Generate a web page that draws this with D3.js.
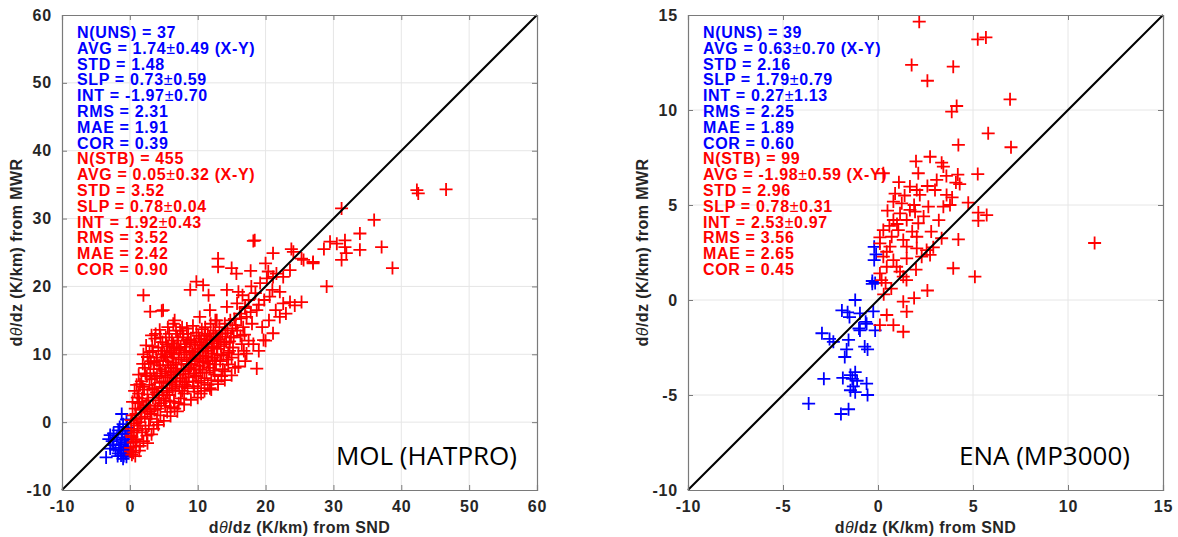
<!DOCTYPE html>
<html>
<head>
<meta charset="utf-8">
<script src="https://cdn.jsdelivr.net/npm/d3@7"></script>
<style>
body { margin: 0; background: #fff; }
svg { display: block; }
</style>
</head>
<body>
<div id="chart"></div>
<script>
// ---- data ----
var molTicks = [-10, 0, 10, 20, 30, 40, 50, 60];
var enaTicks = [-10, -5, 0, 5, 10, 15];

// MOL unstable (blue)
var molUns = [[-3.5,-5.2],[-2.4,-1.65],[-1.2,1.2],[-2.9,-3.9],[-0.5,-5.1],[-2.9,-1.9],[-1.5,-0.7],
  [-2.4,-3.4],[-1.7,-4.6],[-1.0,-5.4],[-0.5,-3.6],[-1.2,-2.6],[-0.7,-1.65],[-1.9,-2.3],[-1.4,-3.3],
  [-0.9,-4.2],[-1.3,-4.9],[-0.6,-4.6],[-0.3,-3.0],[-0.8,-3.0],[-1.7,-1.2],[-2.1,-4.1],[-0.4,-0.8],
  [-1.0,-0.3],[-0.2,-2.2],[-0.6,-2.5],[-1.1,-1.8],[-1.6,-3.8],[-0.9,-5.0],[-0.3,-4.1],[-2.6,-2.8],
  [-1.3,-4.2],[-0.7,-3.8],[-0.5,0.4],[-0.2,-1.3],[-1.8,-5.0],[-3.1,-2.5]];

// MOL stable (red)
var molStb = [
  [0.5,-4.5],[0.1,-3.8],[0.3,-4.8],[0.8,-5.0],[0.5,-3],[1,-2.5],[0.2,-2],[0.2,-1],[0.6,-0.2],[1,0.5],
  [0.4,1],[0.8,2],[1.2,2.8],[0.2,0.3],[0.3,-2.2],[1.1,-1.2],[0.9,-3.6],[0.1,-4.3],
  [1.5,-3.5],[2,-2.8],[1.8,-1.5],[2.5,-2],[1.5,0],[2.2,0.8],[2.8,-0.5],[1.6,1.8],[2.4,2.5],[1.8,3.5],
  [2.7,3.2],[1.3,4.2],[2.1,4.8],[2.9,5.5],[1.7,6],[2.5,6.8],[2.2,8],[2.8,8.6],[3,7.2],[1.9,5.2],
  [2.6,1.5],[3,0.5],[3,2],[1.4,3],
  [3.5,-1],[4,0],[4.5,1],[3.2,1.2],[3.8,2.4],[4.6,2.8],[3.4,3.6],[4.2,4],[4.8,4.6],[3.6,5],[4.4,5.8],
  [3.2,6.3],[4,6.8],[4.7,7.2],[3.5,7.8],[4.3,8.4],[3.1,9],[3.9,9.5],[4.6,10],[3.4,10.5],[4.2,11],
  [4.8,11.8],[3.7,12.3],[5,3.5],[5,6],[4.9,9],[3.3,4.8],[4.1,2],[3.6,8.8],[4.5,12.5],
  [5.5,1.5],[6,2.2],[6.5,3],[5.3,3.2],[5.8,4],[6.7,4.6],[5.4,5],[6.2,5.5],[6.9,6],[5.6,6.6],[6.4,7],
  [5.2,7.5],[6,8],[6.8,8.5],[5.5,9],[6.3,9.5],[5.1,10],[5.9,10.5],[6.6,11],[5.4,11.5],[6.2,12],
  [7,12.5],[5.8,13],[6.8,13.5],[6.5,10],[7,7.5],[5.3,12.5],[6.6,2],
  [7.5,3.5],[8,4.2],[8.5,5],[7.3,5.2],[7.8,6],[8.7,6.6],[7.4,7],[8.2,7.5],[8.9,8],[7.6,8.5],[8.4,9],
  [7.2,9.5],[8,10],[8.8,10.5],[7.5,11],[8.3,11.5],[7.1,12],[7.9,12.5],[8.6,13],[7.4,13.5],[9,9.5],
  [8.1,5.5],[7.7,14],[9,12],
  [9.5,4.5],[10,5],[10.5,5.8],[9.3,6],[9.8,6.8],[10.7,7.3],[9.4,7.8],[10.2,8.3],[10.9,8.8],[9.6,9.3],
  [10.4,9.8],[9.2,10.3],[10,10.8],[10.8,11.3],[9.5,11.8],[10.3,12.3],[11,12.8],[9.8,13.2],[10.6,13.7],
  [9.3,14.2],[10.5,4.2],[11,6.5],
  [11.5,5.5],[12,6.2],[12.5,7],[11.3,7.3],[11.8,8],[12.7,8.5],[11.4,9],[12.2,9.5],[12.9,10],[11.6,10.5],
  [12.4,11],[11.2,11.5],[12,12],[12.8,12.5],[11.5,13],[12.3,13.5],[11.1,14],[11.9,14.5],[12.6,15],[13,6],
  [13.5,6.8],[14,7.5],[14.5,8.5],[13.3,9],[13.8,10],[14.7,10.5],[13.4,11.2],[14.2,11.8],[14.9,12.5],
  [13.6,13],[14.4,13.5],[13.2,14],[14,14.5],[14.8,15],[15,9.5],[13.1,12.2],
  [15.5,8],[16,10],[16.5,11.5],[15.3,12.5],[15.8,13.5],[16.7,14],[15.4,15.2],[16.2,16],[17,17],
  [17.5,12],[16.8,10.5],[18,14.5],[17.5,18],[15.8,17.5],[17.2,15.5],
  [2.0,18.7],[3.0,16.3],[4.7,16.4],[18.7,7.9],[17.2,10.1],[19.7,12.1],[21.1,13.1],[22.1,15.5],
  [6.6,15],[8.4,13.8],[10.3,15.5],[12.8,15],[4.9,16.5],[11.8,16.5],[14.3,17],[17,16.8],[18.7,16.5],
  [9.8,20.7],[10.8,20.2],[8.9,19.5],[11.6,18.7],[14.3,19.5],[16,19.2],[17.9,20],[19.2,20.5],[20.2,21.2],
  [21.6,21.9],[22.6,21.4],[23.6,22.4],[20.6,18.5],[22.1,19.2],[23.6,17.7],[25.3,17.7],[22.6,17.5],
  [18.2,26.7],[13.0,24.1],[13.0,22.9],[15.0,22.7],[15.7,21.9],[21.1,24.9],[24.1,25.1],[25.6,23.9],
  [27,23.6],[18.4,26.8],[23.8,25.5],[25.3,24.1],[20.4,22.2],[21.1,21.4],
  [42.3,34.2],[42.5,33.7],[46.6,34.3],[31.2,31.5],[36.0,29.8],[33.9,27.8],[37.1,25.8],[38.7,22.7],
  [29.5,26.6],[31.7,26.8],[31.7,25.8],[31.9,24.9],[31.2,23.9],[33.9,25.4],[28.6,25.5],[30.5,26.3],
  [29,20],[27,23.4],
  [0.6,-1.5],[1.2,-0.5],[0.9,1.2],[1.7,0.6],[2.3,-1],[2.0,2.2],[1.1,3.6],[2.6,4.1],[1.5,5.6],[2.3,7.2],
  [1.9,8.6],[2.6,9.6],[3.3,11.2],[2.9,10.3],[3.8,13],[4.4,13.6],[5.6,14],[6.4,14.5],[3.6,1.8],[4.3,3.2],
  [3.9,4.4],[4.7,5.2],[3.7,6.5],[4.5,7.8],[4.0,9.0],[4.8,10.5],[5.2,2.4],[5.9,3.1],[5.5,4.4],[6.3,4.9],
  [5.9,5.8],[6.7,6.5],[5.3,6.9],[6.1,7.3],[6.7,7.9],[5.7,8.4],[6.4,8.8],[5.3,9.6],[6.1,10.2],[6.9,10.8],
  [5.6,11.2],[6.4,11.6],[7.2,2.8],[7.7,4.6],[8.3,5.9],[7.5,6.4],[8.6,7.1],[7.9,7.7],[8.7,8.6],[7.6,9.2],
  [8.3,10.3],[7.3,10.6],[8.1,11.1],[8.9,11.7],[7.8,13],[8.5,12.2],[9.4,5.3],[10.1,6.1],[9.6,7.2],
  [10.4,7.7],[9.1,8.5],[9.9,9.0],[10.7,9.4],[9.4,10],[10.2,10.4],[10.9,10.9],[9.7,11.4],[10.5,11.8],
  [11.3,12.2],[10.1,12.7],[11.8,5],[12.3,7.6],[11.6,8.6],[12.5,9.1],[11.2,9.7],[12.0,10.1],[12.8,10.8],
  [11.4,11.1],[12.2,11.6],[13,11.9],[11.8,12.6],[12.6,13.1],[13.7,7.8],[14.3,9.2],[13.5,9.8],[14.5,10.2],
  [13.9,11.5],[14.7,11.9],[13.3,12.6],[14.1,13.1],[15.2,11],[15.6,14.3],[16.3,12.7],[16.9,12.9],
  [15.1,13.8],[16.4,15.3],[17.8,16.2],[1.3,7],[0.7,4.6],[0.4,3],[1.0,5.5],[2.4,11.3],[3.2,12.8],[2.0,10],
  [0.8,-2.8],[1.4,-4.2],[2.6,-3.1],[3.2,-1.8],[4.2,-0.4],[5,0.2],[6,0.9],[7,1.6],[8,2.6],[9,3.3],
  [10,3.6],[11,4.6],[12,4.8],[13,5.6],[14,6.2],[15,6.9],[16,8.2],[17,9],[19,10.5],[20,12],[18.2,11.5],
  [19.5,14],[20.5,15],[21.5,16.5],[23,16],[24.3,17.2],[16.6,18.7],[18.5,19],[19.8,18],[19,17.3],
  [21,19.5],[17.8,22.3],[20,23.4]];

// ENA unstable (blue)
var enaUns = [[-0.2,2.8],[-0.1,2.4],[-0.2,2.1],[-0.3,1.0],[-0.15,0.9],[-1.2,0.0],[-1.9,-0.55],
  [-1.6,-0.65],[-1.5,-0.9],[-0.95,-0.7],[-0.25,-0.6],[-0.65,-1.15],[-0.6,-1.25],[-1.0,-1.5],
  [-0.15,-1.6],[-2.95,-1.75],[-2.55,-2.05],[-2.35,-2.2],[-1.55,-2.1],[-1.65,-2.6],[-0.7,-2.45],
  [-0.55,-2.6],[-1.75,-3.0],[-2.85,-4.15],[-1.85,-4.1],[-1.45,-3.95],[-1.2,-3.8],[-1.35,-4.15],
  [-1.1,-4.25],[-1.3,-4.55],[-0.6,-4.4],[-1.45,-4.75],[-1.2,-4.85],[-0.55,-5.0],[-3.65,-5.45],
  [-1.55,-5.75],[-1.95,-6.0],[-0.95,-1.6],[-0.3,0.85]];

// ENA stable (red)
var enaStb = [[2.17,14.65],[5.25,13.72],[5.68,13.82],[1.77,12.37],[3.96,12.28],[2.6,11.54],[6.95,10.56],
  [4.14,10.21],[3.88,9.91],[5.8,8.77],[4.23,8.16],[7.0,8.04],[2.74,7.54],[3.35,7.23],[3.44,7.02],
  [2.12,6.67],[3.6,6.53],[5.25,6.63],[3.09,6.32],[4.1,6.18],[4.3,6.1],[1.68,5.97],[2.04,5.79],
  [2.2,5.53],[3.0,5.79],[3.61,5.53],[0.81,5.18],[1.25,5.09],[2.65,4.91],[3.44,4.91],[3.79,5.0],
  [4.75,5.12],[1.68,4.74],[1.95,4.65],[1.16,4.56],[0.81,4.21],[1.51,4.21],[2.12,4.04],[5.28,4.6],
  [5.72,4.47],[5.28,4.18],[0.28,3.68],[1.07,3.68],[0.72,3.33],[1.33,3.16],[2.04,3.33],[3.35,3.25],
  [4.23,3.19],[0.1,2.98],[0.63,2.81],[1.51,2.81],[2.04,2.72],[2.56,2.63],[2.91,2.77],[0.28,2.28],
  [0.81,2.1],[1.51,2.19],[2.3,2.28],[2.74,2.37],[0.46,1.75],[1.16,1.49],[3.96,1.67],[0.1,1.4],
  [5.1,1.23],[0.19,1.05],[1.33,1.23],[0.28,6.67],[11.4,3.0],[2.6,0.5],[1.33,-0.09],[1.51,-0.61],
  [0.46,-0.79],[0.81,-1.32],[0.1,-1.32],[1.33,-1.67],[0.9,5.6],[1.0,4.0],[0.46,2.54],[0.98,1.75],
  [0.4,0.9],[1.5,1.05],[0.1,3.3],[0.6,3.9],[1.9,5.0],[2.4,4.4],[3.2,4.2],[2.8,3.6],[1.8,3.6],
  [0.5,4.7],[1.4,5.5],[2.6,6.0],[3.9,5.4],[0.3,0.3],[0.7,0.6],[2.0,1.6],[1.9,0.1],[4.2,6.6],
  [2.0,7.3],[1.1,6.2]];

var molUnsStats = ["N(UNS) = 37", "AVG = 1.74±0.49 (X-Y)", "STD = 1.48", "SLP = 0.73±0.59",
  "INT = -1.97±0.70", "RMS = 2.31", "MAE = 1.91", "COR = 0.39"];
var molStbStats = ["N(STB) = 455", "AVG = 0.05±0.32 (X-Y)", "STD = 3.52", "SLP = 0.78±0.04",
  "INT = 1.92±0.43", "RMS = 3.52", "MAE = 2.42", "COR = 0.90"];
var enaUnsStats = ["N(UNS) = 39", "AVG = 0.63±0.70 (X-Y)", "STD = 2.16", "SLP = 1.79±0.79",
  "INT = 0.27±1.13", "RMS = 2.25", "MAE = 1.89", "COR = 0.60"];
var enaStbStats = ["N(STB) = 99", "AVG = -1.98±0.59 (X-Y)", "STD = 2.96", "SLP = 0.78±0.31",
  "INT = 2.53±0.97", "RMS = 3.56", "MAE = 2.65", "COR = 0.45"];

var panels = [
  {left: 62, domain: [-10, 60], ticks: molTicks, uns: molUns, stb: molStb,
   unsStats: molUnsStats, stbStats: molStbStats, name: "MOL (HATPRO)", nameRight: 517},
  {left: 688, domain: [-10, 15], ticks: enaTicks, uns: enaUns, stb: enaStb,
   unsStats: enaUnsStats, stbStats: enaStbStats, name: "ENA (MP3000)", nameRight: 1130}
];

// ---- drawing ----
var W = 1178, H = 537, plotTop = 15, size = 475;
var boldFont = "'Liberation Sans', Arial, Helvetica, sans-serif";
var axisColor = "#262626";

var svg = d3.select("#chart").append("svg")
    .attr("width", W).attr("height", H)
    .attr("viewBox", [0, 0, W, H]);

var plusPath = "M-6.5,0H6.5M0,-6.5V6.5";

const drawPanel = (p) => {
  var x = d3.scaleLinear().domain(p.domain).range([p.left, p.left + size]);
  var y = d3.scaleLinear().domain(p.domain).range([plotTop + size, plotTop]);
  var g = svg.append("g");

  // grid
  g.append("g").selectAll("line").data(p.ticks.slice(1, -1)).join("line")
      .attr("x1", d => x(d)).attr("x2", d => x(d))
      .attr("y1", plotTop).attr("y2", plotTop + size)
      .attr("stroke", "#e6e6e6").attr("stroke-width", 1);
  g.append("g").selectAll("line").data(p.ticks.slice(1, -1)).join("line")
      .attr("y1", d => y(d)).attr("y2", d => y(d))
      .attr("x1", p.left).attr("x2", p.left + size)
      .attr("stroke", "#e6e6e6").attr("stroke-width", 1);

  // stats text
  var txt = g.append("g").attr("font-family", boldFont).attr("font-weight", "bold")
      .attr("font-size", 16).attr("letter-spacing", 0.65);
  var lines = p.unsStats.map(s => ({s: s, c: "#0000ff"}))
      .concat(p.stbStats.map(s => ({s: s, c: "#ff0000"})));
  txt.selectAll("text").data(lines).join("text")
      .attr("x", p.left + 15)
      .attr("y", (d, i) => 38 + i * 15.8)
      .attr("fill", d => d.c)
      .each(function(d) {
        var parts = d.s.split("±");
        var t = d3.select(this);
        parts.forEach((part, k) => {
          if (k > 0) t.append("tspan").attr("font-weight", "normal").text("±");
          t.append("tspan").text(part);
        });
      });

  // points
  var pts = g.append("g");
  pts.selectAll("path.u").data(p.uns).join("path")
      .attr("d", plusPath)
      .attr("transform", d => `translate(${x(d[0])},${y(d[1])})`)
      .attr("stroke", "#0000ff").attr("stroke-width", 1.8).attr("fill", "none");
  pts.selectAll("path.s").data(p.stb).join("path")
      .attr("d", plusPath)
      .attr("transform", d => `translate(${x(d[0])},${y(d[1])})`)
      .attr("stroke", "#ff0000").attr("stroke-width", 1.8).attr("fill", "none");

  // 1:1 line
  g.append("line")
      .attr("x1", x(p.domain[0])).attr("y1", y(p.domain[0]))
      .attr("x2", x(p.domain[1])).attr("y2", y(p.domain[1]))
      .attr("stroke", "#000").attr("stroke-width", 2);

  // axes box with inward ticks
  var fmt = d => String(d);
  var xb = d3.axisBottom(x).tickValues(p.ticks).tickSize(-5).tickPadding(11).tickFormat(fmt);
  var xt = d3.axisTop(x).tickValues(p.ticks).tickSize(-5).tickFormat("");
  var yl = d3.axisLeft(y).tickValues(p.ticks).tickSize(-5).tickPadding(10).tickFormat(fmt);
  var yr = d3.axisRight(y).tickValues(p.ticks).tickSize(-5).tickFormat("");

  [[xb, `translate(0,${plotTop + size})`], [xt, `translate(0,${plotTop})`],
   [yl, `translate(${p.left},0)`], [yr, `translate(${p.left + size},0)`]].forEach(a => {
    var ax = g.append("g").attr("transform", a[1]).call(a[0]);
    ax.selectAll(".domain").attr("stroke", "#7a7a7a").attr("stroke-width", 1.2);
    ax.selectAll(".tick line").attr("stroke", "#7a7a7a");
    ax.selectAll("text").attr("font-family", boldFont).attr("font-weight", "bold")
      .attr("font-size", 16).attr("letter-spacing", 0.8).attr("fill", axisColor);
  });

  // axis titles
  var xTitle = g.append("text")
      .attr("x", p.left + size / 2).attr("y", 533)
      .attr("text-anchor", "middle").attr("font-family", boldFont)
      .attr("font-weight", "bold").attr("font-size", 16).attr("letter-spacing", 0.4)
      .attr("fill", axisColor);
  xTitle.append("tspan").text("d");
  xTitle.append("tspan").attr("font-style", "italic").attr("font-weight", "normal").text("θ");
  xTitle.append("tspan").text("/dz (K/km) from SND");

  var yTitle = g.append("text")
      .attr("transform", `translate(${p.left - 40},${plotTop + size / 2}) rotate(-90)`)
      .attr("text-anchor", "middle").attr("font-family", boldFont)
      .attr("font-weight", "bold").attr("font-size", 16).attr("letter-spacing", 0.4)
      .attr("fill", axisColor);
  yTitle.append("tspan").text("d");
  yTitle.append("tspan").attr("font-style", "italic").attr("font-weight", "normal").text("θ");
  yTitle.append("tspan").text("/dz (K/km) from MWR");

  // site label
  g.append("text")
      .attr("x", p.nameRight).attr("y", 465)
      .attr("text-anchor", "end")
      .attr("font-family", "'Open Sans', 'Noto Sans', sans-serif")
      .attr("font-size", 26).attr("fill", "#000")
      .text(p.name);
};

panels.forEach(drawPanel);
</script>
</body>
</html>
